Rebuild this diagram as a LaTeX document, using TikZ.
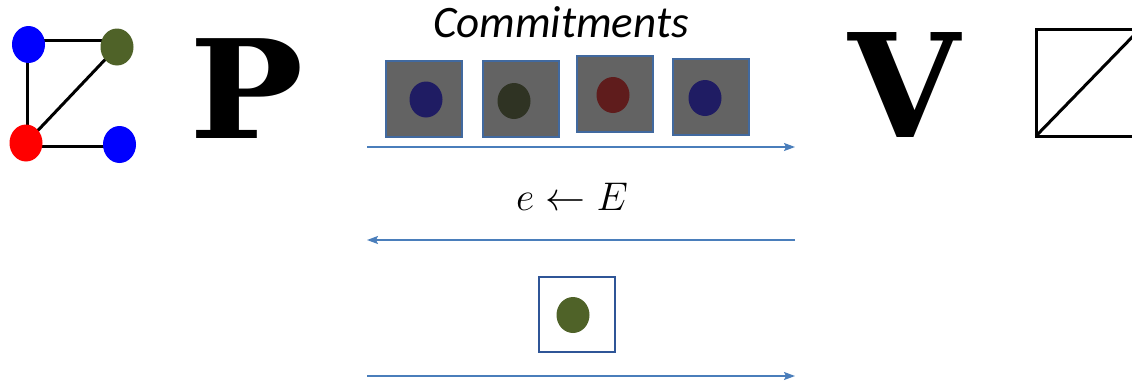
\RequirePackage{fix-cm}
\documentclass[tikz,border=0pt]{standalone}
\usepackage{fontspec}
\newfontfamily\carlito{Carlito}
\newfontfamily\slab{DejaVu Serif}
\usetikzlibrary{shapes.geometric,arrows.meta,backgrounds}
\definecolor{arrowblue}{HTML}{4A7EBB}
\definecolor{boxblue}{HTML}{41699F}
\definecolor{boxgray}{HTML}{636363}
\definecolor{openblue}{HTML}{2F5597}
\definecolor{gblue}{HTML}{0000FF}
\definecolor{golive}{HTML}{4F6228}
\definecolor{gred}{HTML}{FF0000}
\definecolor{dnavy}{HTML}{1F1C63}
\definecolor{dolive}{HTML}{2F3323}
\definecolor{dred}{HTML}{5F1C1C}
\definecolor{dolive2}{HTML}{4F6228}
\begin{document}
\begin{tikzpicture}[x=1pt,y=-1pt,
  gnode/.style={ellipse,minimum width=33pt,minimum height=37pt,inner sep=0pt},
  cdot/.style={ellipse,minimum width=33pt,minimum height=36pt,inner sep=0pt},
  cbox/.style={rectangle,draw=boxblue,fill=boxgray,line width=2pt,minimum width=76pt,minimum height=76pt,inner sep=0pt},
  obox/.style={rectangle,draw=openblue,fill=white,line width=1.6pt,minimum width=76pt,minimum height=75pt,inner sep=0pt},
  msg/.style={draw=arrowblue,line width=1.6pt,-{Stealth[length=11pt,width=8pt,inset=2pt]}},
  gedge/.style={line width=3pt,black}]
\useasboundingbox (0,0) rectangle (1132,383);
\clip (0,0) rectangle (1132,383);
% left graph
\node[gnode,fill=gblue] (v1) at (28.5,44.5) {};
\node[gnode,fill=golive] (v2) at (117,47) {};
\node[gnode,fill=gred] (v3) at (26,143) {};
\node[gnode,fill=gblue] (v4) at (119.5,144.5) {};
\begin{scope}[on background layer]
\draw[gedge] ([yshift=4pt]v1.center) -- ([yshift=4pt]v1.center -| v2.center);
\draw[gedge] ([xshift=-1.5pt]v1.center) -- ([xshift=-1.5pt]v1.center |- v3.center);
\draw[gedge] (v3.center) -- (v2.center);
\draw[gedge] ([yshift=-3.5pt]v3.center) -- ([yshift=-3.5pt]v3.center -| v4.center);
\end{scope}
% P and V
\node[anchor=base west,inner sep=0pt,xscale=1.11,font=\slab\bfseries\fontsize{137}{137}\selectfont] (P) at (189,138) {P};
\node[anchor=base west,inner sep=0pt,font=\slab\bfseries\fontsize{144}{144}\selectfont] (V) at (848,137) {V};
% right partial graph
\coordinate (s1) at (1036,29);
\coordinate (s2) at (1036,136);
\coordinate (s3) at (1140,136);
\coordinate (s4) at (1140,29);
\draw[gedge] (s4) -- (s1) -- (s2) -- (s3);
\draw[gedge] (s2) -- (s4);
% commitments
\node[anchor=base,inner sep=0pt,font=\carlito\itshape\fontsize{45}{45}\selectfont] (ct) at (561,37) {Commitments};
\node[cbox] (b1) at (424,99) {};
\node[cbox] (b2) at (520.5,99) {};
\node[cbox] (b3) at (614.5,94) {};
\node[cbox] (b4) at (710.5,96.5) {};
\node[cdot,fill=dnavy] (d1) at (426,99.5) {};
\node[cdot,fill=dolive] (d2) at (514,101) {};
\node[cdot,fill=dred] (d3) at (613,95) {};
\node[cdot,fill=dnavy] (d4) at (705,98) {};
% messages
\coordinate (m1s) at (367,147);
\coordinate (m1e) at (795,147);
\draw[msg] (m1s) -- (m1e);
\node[anchor=base,inner sep=0pt,font=\fontsize{40}{40}\selectfont] (ch) at (572,210) {$e\leftarrow E$};
\coordinate (m2s) at (795,240);
\coordinate (m2e) at (367,240);
\draw[msg] (m2s) -- (m2e);
\node[obox] (b5) at (577,314.5) {};
\node[cdot,fill=dolive2] (d5) at (573,315) {};
\coordinate (m3s) at (367,376);
\coordinate (m3e) at (795,376);
\draw[msg] (m3s) -- (m3e);
\end{tikzpicture}
\end{document}
